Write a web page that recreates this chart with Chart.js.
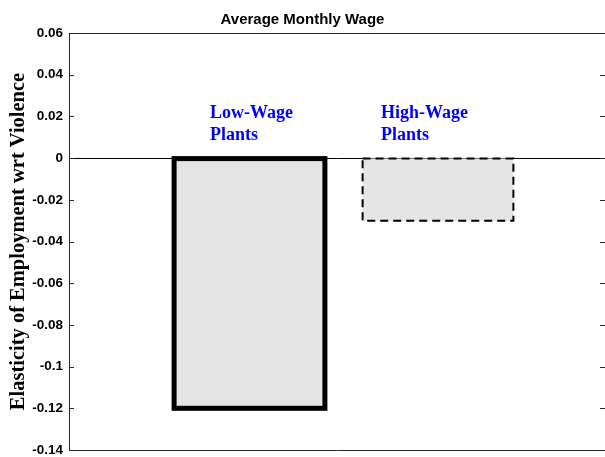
<!DOCTYPE html>
<html>
<head>
<meta charset="utf-8">
<script src="https://cdn.jsdelivr.net/npm/chart.js"></script>
<style>
  html, body { margin: 0; padding: 0; background: #fff; overflow: hidden; }
  #wrap { width: 605px; height: 457px; }
</style>
</head>
<body>
<div id="wrap"><canvas id="wageChart" width="605" height="457"></canvas></div>
<script>
// values
const categories = ['Low-Wage Plants', 'High-Wage Plants'];
const barLabels = [['Low-Wage', 'Plants'], ['High-Wage', 'Plants']];
const xPositions = [1, 2];
const elasticity = [-0.12, -0.03];
const yTicks = [0.06, 0.04, 0.02, 0, -0.02, -0.04, -0.06, -0.08, -0.1, -0.12, -0.14];

// styling / placement
const xMin = 0.0424, xMax = 2.886;
const outlineWidths = [5, 2];
const outlineDashes = [[], [8, 5]];
const labelAnchors = [{ x: 0.79, y: 0.0193 }, { x: 1.698, y: 0.0193 }];

const frame = {
    id: 'frame',
    afterDatasetsDraw(chart) {
        const ctx = chart.ctx;
        const meta = chart.getDatasetMeta(0);
        meta.data.forEach((bar, i) => {
            const p = bar.getProps(['x', 'y', 'base', 'width'], true);
            ctx.save();
            ctx.lineWidth = outlineWidths[i];
            ctx.setLineDash(outlineDashes[i]);
            ctx.strokeStyle = '#000';
            ctx.strokeRect(p.x - p.width / 2, Math.min(p.y, p.base), p.width, Math.abs(p.base - p.y));
            ctx.restore();
        });

        // bar captions
        const xs = chart.scales.x, ys = chart.scales.y;
        ctx.save();
        ctx.fillStyle = '#0000ff';
        ctx.font = 'bold 18px "Liberation Serif", "Times New Roman", serif';
        ctx.textAlign = 'left';
        ctx.textBaseline = 'alphabetic';
        barLabels.forEach((lines, i) => {
            const px = xs.getPixelForValue(labelAnchors[i].x);
            const py = ys.getPixelForValue(labelAnchors[i].y);
            lines.forEach((t, j) => ctx.fillText(t, px, py + j * 22.5));
        });
        ctx.restore();
    },
    afterDraw(chart) {
        const ctx = chart.ctx;
        const a = chart.chartArea;
        const ys = chart.scales.y;
        ctx.save();
        ctx.strokeStyle = '#262626';
        ctx.lineWidth = 1;
        ctx.beginPath();
        ctx.moveTo(a.left, a.top + 0.5);
        ctx.lineTo(a.right, a.top + 0.5);
        ys.ticks.forEach(t => {
            const py = Math.round(ys.getPixelForValue(t.value)) + 0.5;
            ctx.moveTo(a.left, py);
            ctx.lineTo(a.left + 5, py);
            ctx.moveTo(a.right - 5, py);
            ctx.lineTo(a.right, py);
        });
        ctx.stroke();
        ctx.restore();
    }
};

new Chart(document.getElementById('wageChart'), {
    type: 'bar',
    data: {
        labels: categories,
        datasets: [{
            data: xPositions.map((x, i) => ({ x: x, y: elasticity[i] })),
            backgroundColor: '#e5e5e5',
            borderWidth: 0,
            categoryPercentage: 1,
            barPercentage: 0.8
        }]
    },
    options: {
        responsive: false,
        animation: false,
        layout: { padding: { left: 0, right: 0, top: 0, bottom: 7 } },
        plugins: {
            legend: { display: false },
            tooltip: { enabled: false },
            title: {
                display: true,
                text: 'Average Monthly Wage',
                color: '#000',
                font: { family: '"Liberation Sans", Arial, sans-serif', size: 15, weight: 'bold' },
                padding: { top: 11, bottom: 4 }
            }
        },
        scales: {
            x: {
                type: 'linear',
                offset: false,
                min: xMin,
                max: xMax,
                afterBuildTicks(scale) {
                    scale.ticks = xPositions.map(v => ({ value: v }));
                },
                afterFit(scale) { scale.height = 0; scale.paddingLeft = 0; scale.paddingRight = 0; },
                ticks: { display: false },
                grid: { display: false },
                border: { display: true, color: '#262626', width: 1 }
            },
            y: {
                min: -0.14,
                max: 0.06,
                afterBuildTicks(scale) {
                    scale.ticks = yTicks.map(v => ({ value: v }));
                },
                afterFit(scale) { scale.width = 69; scale.paddingTop = 0; scale.paddingBottom = 0; },
                ticks: {
                    color: '#000',
                    padding: 6,
                    font: { family: '"Liberation Sans", Arial, sans-serif', size: 13.5, weight: 'bold' },
                    callback: v => String(Number(v.toFixed(2)))
                },
                grid: {
                    drawTicks: false,
                    color: ctx => (ctx.tick && Math.abs(ctx.tick.value) < 1e-9) ? '#000' : 'rgba(0,0,0,0)',
                    lineWidth: 1
                },
                border: { display: true, color: '#262626', width: 1 },
                title: {
                    display: true,
                    text: 'Elasticity of Employment wrt Violence',
                    color: '#000',
                    font: { family: '"Liberation Serif", "Times New Roman", serif', size: 20.5, weight: 'bold' },
                    padding: { top: 6, bottom: 0 }
                }
            }
        }
    },
    plugins: [frame]
});
</script>
</body>
</html>
